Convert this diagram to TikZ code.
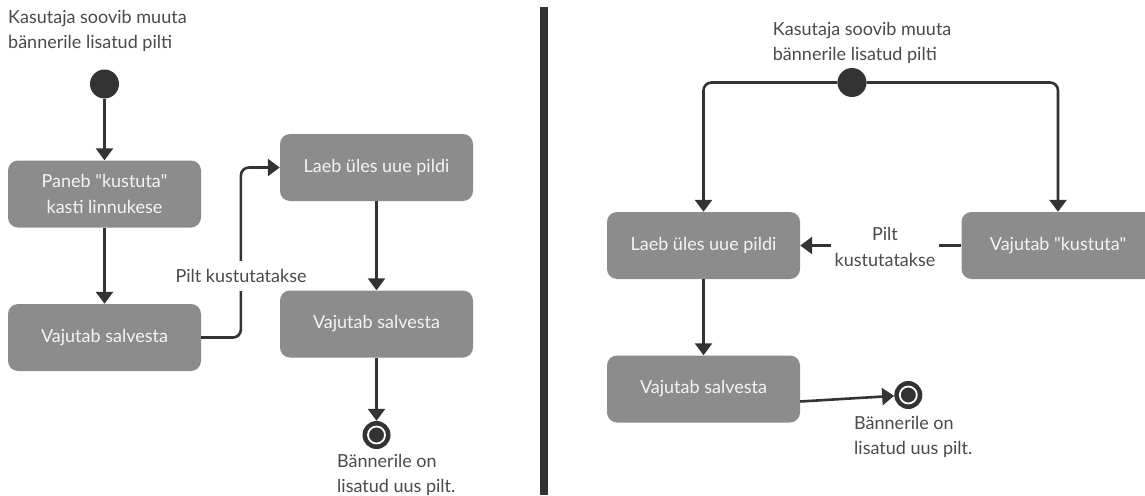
\documentclass[tikz,border=0pt]{standalone}
\usepackage{fontspec}
\setmainfont{Lato}[Ligatures=TeXOff]
\usetikzlibrary{arrows.meta}
\definecolor{ink}{HTML}{333333}
\definecolor{boxgray}{HTML}{8C8C8C}
\definecolor{labelgray}{HTML}{4A4A4A}
\definecolor{boxtext}{HTML}{F4F4F4}

\begin{document}
\begin{tikzpicture}[x=1pt,y=-1pt,
  action/.style={rectangle, rounded corners=10pt, fill=boxgray, text=boxtext,
    minimum width=193pt, minimum height=67pt, align=center,
    font=\fontsize{18}{26}\selectfont, inner sep=0pt},
  initial/.style={circle, fill=ink, minimum size=29pt, inner sep=0pt},
  final/.style={circle, fill=ink, minimum size=28pt, inner sep=0pt,
    path picture={\draw[white, line width=1.8pt]
      (path picture bounding box.center) circle[radius=8.5pt];}},
  note/.style={text=labelgray, align=left, font=\fontsize{18}{25}\selectfont, inner sep=0pt},
  guard/.style={fill=white, text=labelgray, font=\fontsize{18}{26}\selectfont,
    align=center, inner xsep=4pt, inner ysep=3pt},
  flow/.style={draw=ink, line width=2.6pt, -{Triangle[width=17pt,length=12pt]}},
]
\useasboundingbox[fill=white] (0,0) rectangle (1145,495);

% ---------- first variant ----------
\node[note, anchor=west] (t1) at (8,30.5) {Kasutaja soovib muuta\\bännerile lisatud pilti};
\node[initial] (s1) at (104.5,84) {};
\node[action] (a1) at (104.5,194) {Paneb "kustuta"\\kasti linnukese};
\node[action] (a2) at (104.5,337.5) {Vajutab salvesta};
\node[action] (a3) at (376.5,167.5) {Laeb üles uue pildi};
\node[final] (e1) at (376.5,435) {};
\node[note, anchor=west] (t2) at (337,474.5) {Bännerile on\\lisatud uus pilt.};

\draw[flow] (s1) -- (a1);
\draw[flow] (a1) -- (a2);
\draw[flow, rounded corners=8pt] (a2.east) -- ++(39.7,0) |- (a3.west);
\node[guard, minimum height=30pt, inner ysep=0pt] (l1) at (241,276) {Pilt kustutatakse};
% drawn after the label so that its fill does not cover the box corner
\node[action] (a4) at (376.5,324) {Vajutab salvesta};
\draw[flow] (a3) -- (a4);
\draw[flow] (a4) -- (e1);

% ---------- separator ----------
\draw[ink, line width=8pt] (544,7) -- (544,495);

% ---------- second variant ----------
\node[note, anchor=west] (t3) at (772.7,43.3) {Kasutaja soovib muuta\\bännerile lisatud pilti};
\node[initial] (s2) at (852,82.5) {};
\node[action] (b1) at (703.5,245.5) {Laeb üles uue pildi};
\node[action] (b2) at (1058,245.5) {Vajutab "kustuta"};
\node[action] (b3) at (703.5,389) {Vajutab salvesta};
\node[final] (e2) at (908.3,395) {};
\node[note, anchor=west] (t4) at (854,436.5) {Bännerile on\\lisatud uus pilt.};

\draw[flow, rounded corners=8pt] (s2) -| (b1);
\draw[flow, rounded corners=8pt] (s2) -| (b2);
\draw[flow] (b2) -- (b1);
\node[guard] (l2) at (885,247) {Pilt\\kustutatakse};
\draw[flow] (b1) -- (b3);
\draw[flow] ([yshift=-12.5pt]b3.east) -- (e2);
\end{tikzpicture}
\end{document}
